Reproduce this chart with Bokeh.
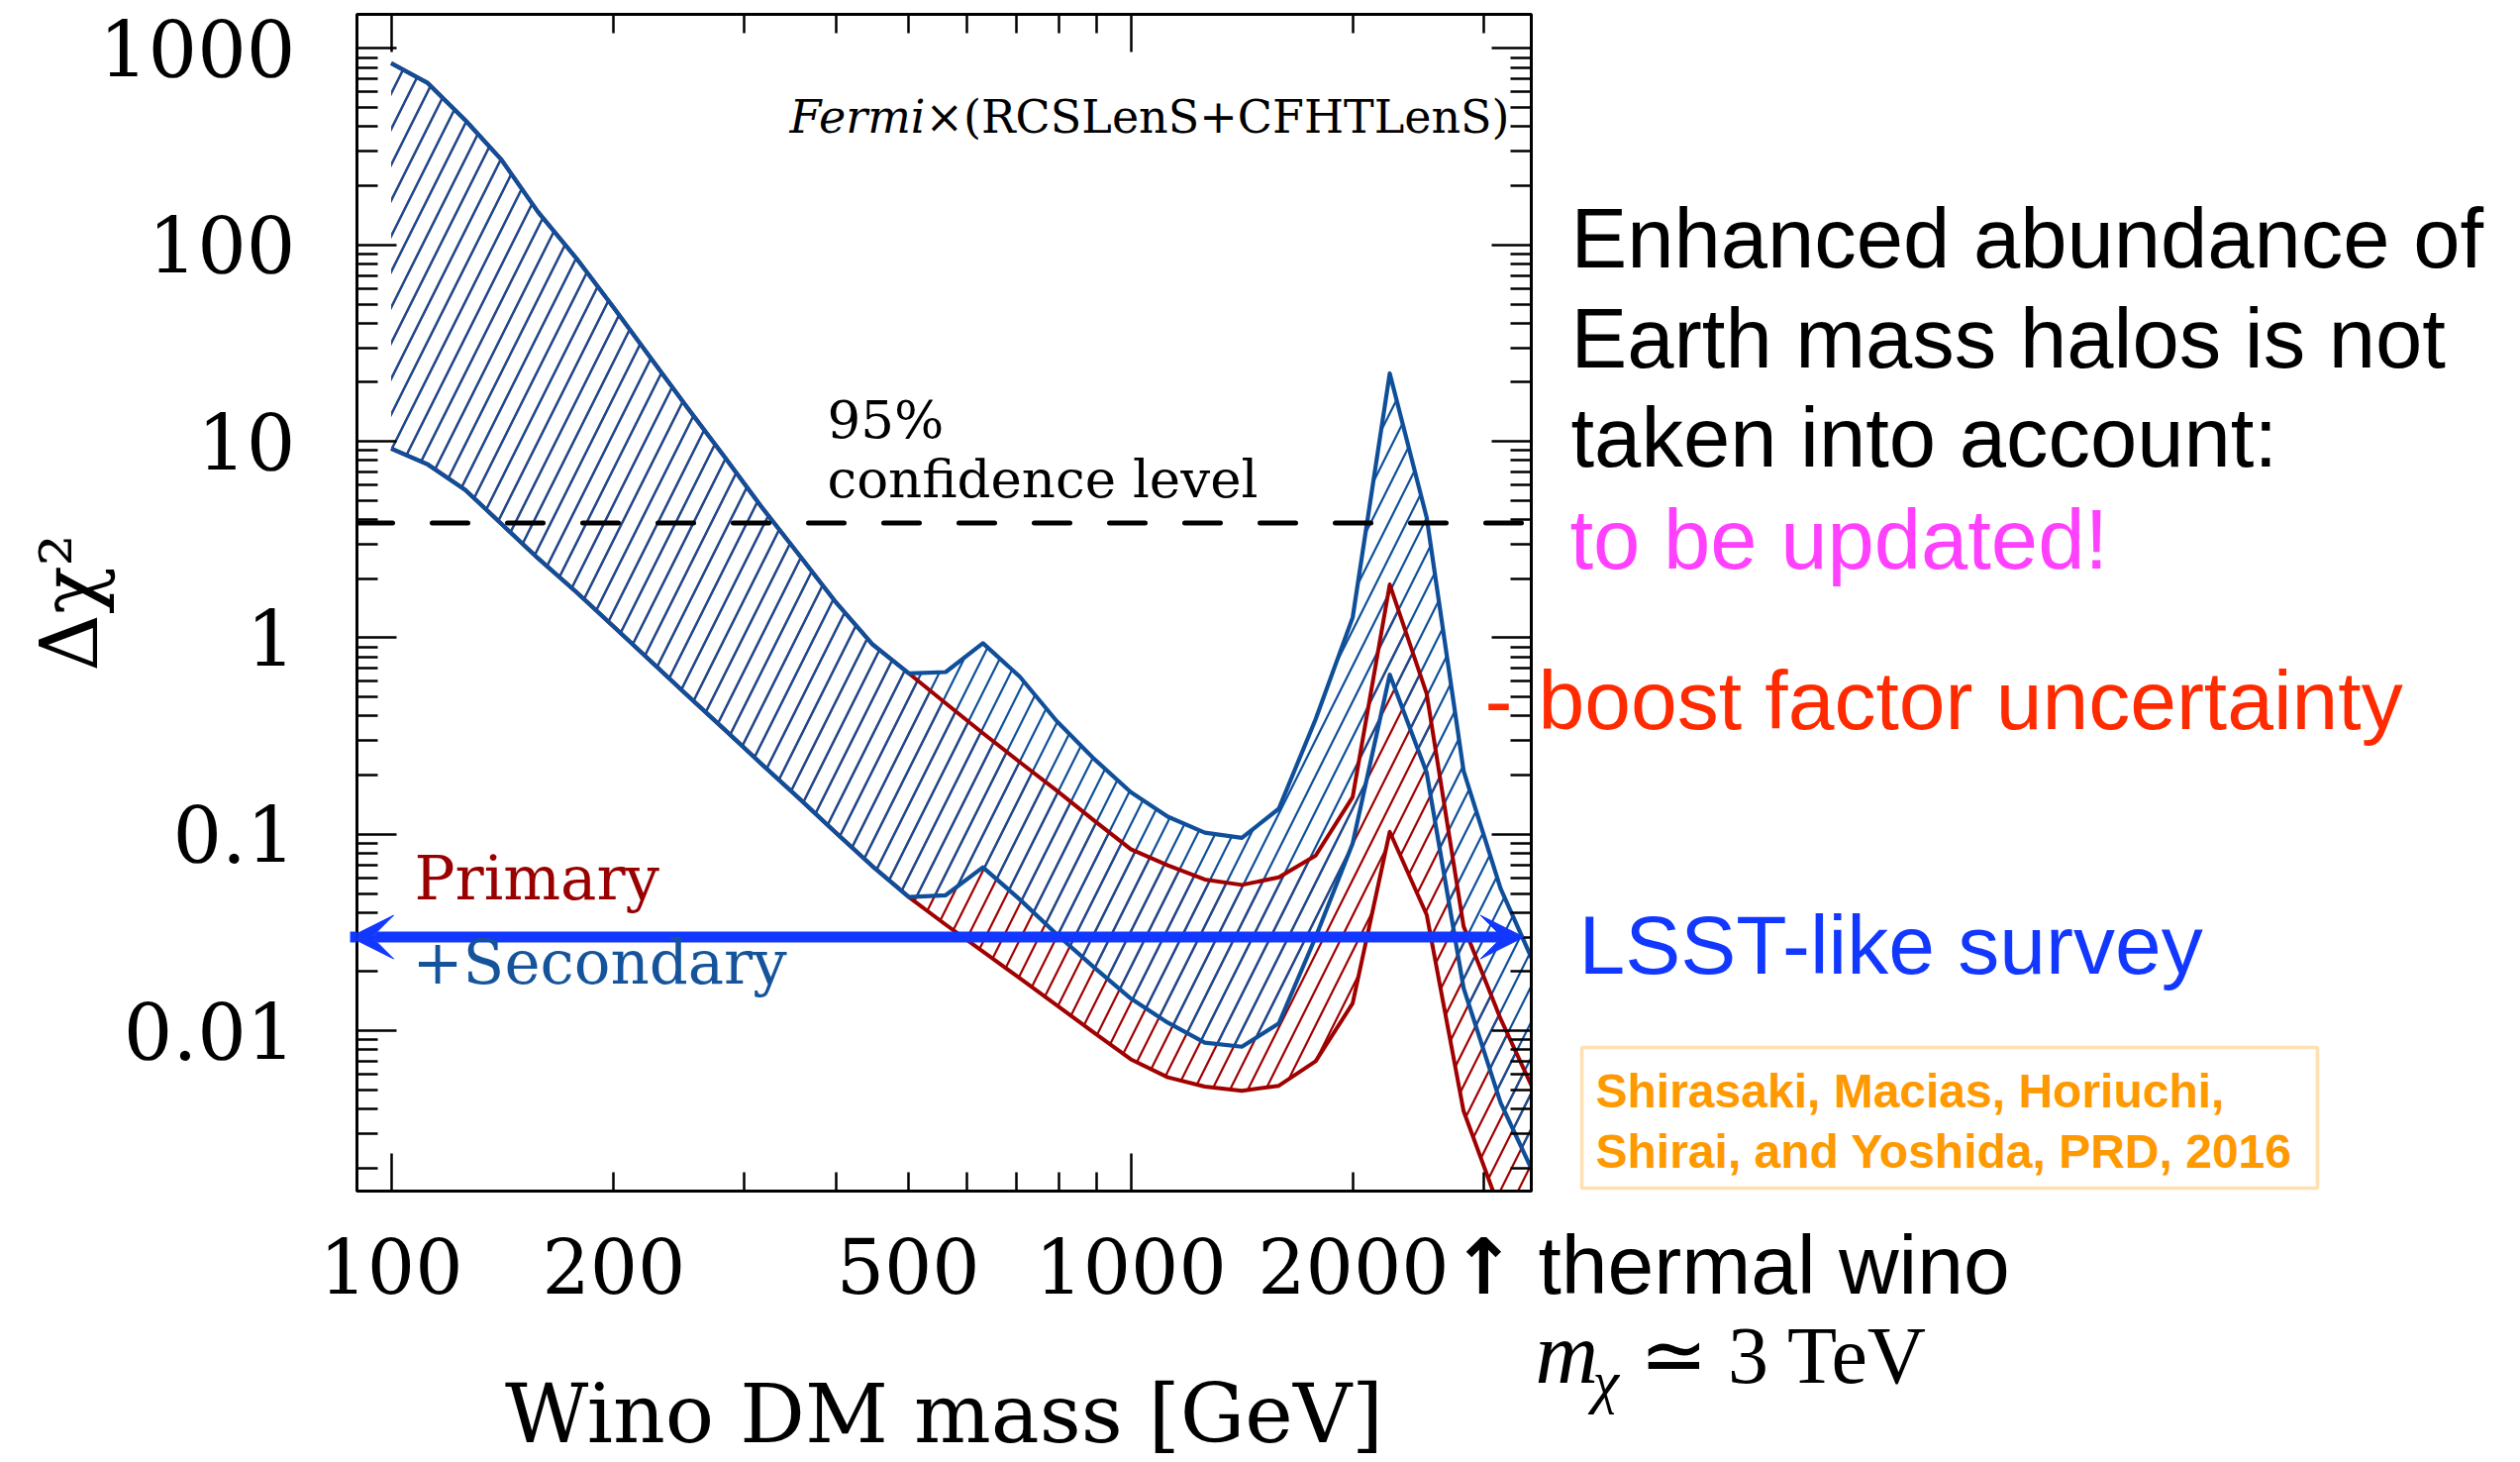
import math

from bokeh.plotting import figure
from bokeh.layouts import row, column
from bokeh.core.properties import value
from bokeh.models import (FixedTicker, LogAxis, Range1d, Span, Label, LabelSet,
                          Arrow, VeeHead, BoxAnnotation, ColumnDataSource)
from bokeh.embed import file_html
from bokeh.resources import INLINE

# Wino dark-matter mass grid [GeV]
mass = [100, 112, 126, 141, 158, 178, 200, 224, 251, 282, 316, 355, 398, 447,
        501, 562, 631, 708, 794, 891, 1000, 1122, 1259, 1413, 1585, 1778, 1995,
        2239, 2512, 2818, 3162, 3548]

# Delta chi^2 band, primary + secondary emission (upper / lower boost factor)
tot_hi = [842, 668, 431, 271, 147, 85.5, 47.9, 26.8, 15.0, 8.4, 4.7, 2.68, 1.54,
          0.93, 0.66, 0.67, 0.94, 0.634, 0.377, 0.243, 0.164, 0.123, 0.102,
          0.096, 0.135, 0.386, 1.27, 22.2, 4.1, 0.21, 0.053, 0.020]
tot_lo = [9.2, 7.65, 5.66, 3.8, 2.54, 1.71, 1.14, 0.765, 0.513, 0.343, 0.23,
          0.154, 0.103, 0.069, 0.048, 0.049, 0.068, 0.0466, 0.031, 0.0211,
          0.0146, 0.011, 0.0087, 0.0083, 0.0109, 0.030, 0.09, 0.65, 0.206,
          0.0165, 0.0043, 0.0017]

# Delta chi^2 band, primary emission only
pri_hi = [842, 668, 431, 271, 147, 85.5, 47.9, 26.8, 15.0, 8.4, 4.7, 2.68, 1.54,
          0.93, 0.66, 0.465, 0.327, 0.233, 0.167, 0.118, 0.084, 0.0695, 0.0589,
          0.0553, 0.0604, 0.078, 0.155, 1.87, 0.52, 0.034, 0.0115, 0.0045]
pri_lo = [9.2, 7.65, 5.66, 3.8, 2.54, 1.71, 1.14, 0.765, 0.513, 0.343, 0.23,
          0.154, 0.103, 0.069, 0.048, 0.0347, 0.0253, 0.0185, 0.0135, 0.0098,
          0.00716, 0.0058, 0.0052, 0.00495, 0.00525, 0.0070, 0.0138, 0.103,
          0.039, 0.0039, 0.0012, 0.0005]

cl95 = 3.84                 # 95% confidence level
lsst_level = 0.03           # LSST-like survey sensitivity
lsst_mass = [88, 3400]      # mass span of the LSST arrow
thermal_mass = 3000         # thermal wino mass

# axis ticks
x_major = [100, 1000]
x_minor = [200, 300, 400, 500, 600, 700, 800, 900, 2000, 3000]
x_labeled = [100, 200, 500, 1000, 2000]
x_tick_labels = ["100", "200", "500", "1000", "2000"]
y_major = [0.01, 0.1, 1, 10, 100, 1000]
y_labels = ["0.01", "0.1", "1", "10", "100", "1000"]
y_minor = [m * d for d in (0.001, 0.01, 0.1, 1, 10, 100) for m in range(2, 10)]

BLUE = "#0f4f9a"
RED = "#a00000"
LSST_BLUE = "#1238ff"
ORANGE = "#ff9900"
SERIF = "DejaVu Serif"
SANS = "Liberation Sans"
TIMES = "Liberation Serif"

W, H = 2545, 1476
MAIN_W = 1550                 # width of the plot figure
TOP_H = 1206                  # height of the framed plot row
FRAME_LEFT, FRAME_RIGHT, FRAME_BOTTOM = 360, MAIN_W - 4, 1202
X0, X1 = 89.9, 3479           # mass range of the frame
Y0, Y1 = 0.001528, 1492       # Delta chi^2 range of the frame
BASELINE_SHIFT = 0.31         # Label baseline correction, in em


def px(size):
    return float(size.replace("px", ""))


# ---------------------------------------------------------------- main plot
p = figure(width=MAIN_W, height=TOP_H, x_axis_type="log", y_axis_type="log",
           x_range=Range1d(X0, X1), y_range=Range1d(Y0, Y1),
           output_backend="svg", toolbar_location=None, title=None,
           min_border_left=FRAME_LEFT, min_border_right=MAIN_W - FRAME_RIGHT,
           min_border_top=14, min_border_bottom=TOP_H - FRAME_BOTTOM)
p.grid.visible = False
p.outline_line_color = "black"
p.outline_line_width = 3
p.background_fill_color = "white"
p.border_fill_color = "white"


def tick_style(ax, major_len, minor_len):
    ax.major_tick_in = major_len
    ax.major_tick_out = 0
    ax.minor_tick_in = minor_len
    ax.minor_tick_out = 0
    ax.major_tick_line_width = 2.5
    ax.minor_tick_line_width = 2.5
    ax.major_tick_line_color = "black"
    ax.minor_tick_line_color = "black"
    ax.axis_line_width = 3
    ax.axis_line_color = "black"


def hide_labels(ax):
    ax.major_label_text_font_size = "0px"
    ax.major_label_text_color = None
    ax.major_label_standoff = 0


xb = p.xaxis[0]
xb.ticker = FixedTicker(ticks=x_major, minor_ticks=x_minor)
tick_style(xb, 38, 19)
hide_labels(xb)

xt = LogAxis(ticker=FixedTicker(ticks=x_major, minor_ticks=x_minor))
tick_style(xt, 38, 19)
hide_labels(xt)
p.add_layout(xt, "above")

yl = p.yaxis[0]
yl.ticker = FixedTicker(ticks=y_major, minor_ticks=y_minor)
tick_style(yl, 40, 21)
yl.major_label_overrides = dict(zip(y_major, y_labels))
yl.major_label_text_font = SERIF
yl.major_label_text_font_size = "78px"
yl.major_label_text_color = "black"
yl.major_label_standoff = 62
yl.axis_label = "Δχ²"
yl.axis_label_text_font = SERIF
yl.axis_label_text_font_size = "80px"
yl.axis_label_text_font_style = "normal"
yl.axis_label_text_color = "black"
yl.axis_label_standoff = -20

yr = LogAxis(ticker=FixedTicker(ticks=y_major, minor_ticks=y_minor))
tick_style(yr, 40, 21)
hide_labels(yr)
p.add_layout(yr, "right")

src = ColumnDataSource(dict(mass=mass, tot_hi=tot_hi, tot_lo=tot_lo,
                            pri_hi=pri_hi, pri_lo=pri_lo))
hatch = dict(hatch_pattern="/", hatch_scale=36, hatch_weight=2.2,
             fill_color=None, fill_alpha=0)
p.varea(x="mass", y1="pri_lo", y2="pri_hi", source=src, hatch_color=RED, **hatch)
p.varea(x="mass", y1="tot_lo", y2="tot_hi", source=src, hatch_color=BLUE, **hatch)
for col in ("pri_hi", "pri_lo"):
    p.line("mass", col, source=src, line_color=RED, line_width=4, line_join="round")
for col in ("tot_hi", "tot_lo"):
    p.line("mass", col, source=src, line_color=BLUE, line_width=4.2, line_join="round")

p.add_layout(Span(location=cl95, dimension="width", line_color="black",
                  line_width=5, line_dash="36 40", line_cap="round"))

p.add_layout(Arrow(start=VeeHead(size=44, fill_color=LSST_BLUE, line_color=LSST_BLUE, line_width=1),
                   end=VeeHead(size=44, fill_color=LSST_BLUE, line_color=LSST_BLUE, line_width=1),
                   x_start=lsst_mass[0], y_start=lsst_level,
                   x_end=lsst_mass[1], y_end=lsst_level,
                   line_color=LSST_BLUE, line_width=11))


def frame_label(text, cx, cy, size, color="black", font=SERIF, style="normal", align="left"):
    # page-pixel position converted to frame-relative screen units
    cy = cy - BASELINE_SHIFT * px(size)
    p.add_layout(Label(text=text, x=cx - FRAME_LEFT, y=FRAME_BOTTOM - cy,
                       x_units="screen", y_units="screen",
                       text_font=font, text_font_size=size, text_color=color,
                       text_font_style=style, text_align=align,
                       text_baseline="alphabetic"))


frame_label("Fermi", 934, 132, "46px", style="italic", align="right")
frame_label("×(RCSLenS+CFHTLenS)", 934, 132, "46px")
frame_label("95%", 835, 439, "53px")
frame_label("confidence level", 835, 499, "53px")
frame_label("Primary", 418, 905, "61px", color="#990000")
frame_label("+Secondary", 416, 990, "61px", color="#15549a")
frame_label("-", 1499, 733, "84px", color="#ff2a00", font=SANS)


def page_label(fig, text, cx, cy, size, color="black", font=SANS, style="normal",
               align="left", x_units="data"):
    fig.add_layout(Label(text=text, x=cx, y=cy - BASELINE_SHIFT * px(size),
                         x_units=x_units, text_font=font, text_font_size=size,
                         text_color=color, text_font_style=style,
                         text_align=align, text_baseline="alphabetic"))


# ------------------------------------------- notes to the right of the frame
side_top = figure(width=W - MAIN_W, height=TOP_H, x_range=Range1d(MAIN_W, W),
                  y_range=Range1d(FRAME_BOTTOM, 14), output_backend="svg",
                  toolbar_location=None, title=None, x_axis_location=None,
                  y_axis_location=None, min_border_left=0, min_border_right=0,
                  min_border_top=14, min_border_bottom=TOP_H - FRAME_BOTTOM)
side_top.grid.visible = False
side_top.outline_line_color = None
side_top.background_fill_color = "white"
side_top.border_fill_color = "white"

page_label(side_top, "Enhanced abundance of", 1586, 266, "85px")
page_label(side_top, "Earth mass halos is not", 1586, 367, "85px")
page_label(side_top, "taken into account:", 1586, 467, "85px")
page_label(side_top, "to be updated!", 1585, 570, "85px", color="#ff40ff")
page_label(side_top, "boost factor uncertainty", 1553, 733, "84px", color="#ff2a00")
page_label(side_top, "LSST-like survey", 1594, 980, "84px", color=LSST_BLUE)
side_top.add_layout(BoxAnnotation(left=1597, right=2340, top=1057, bottom=1199,
                                  fill_color=None, fill_alpha=0,
                                  line_color=ORANGE, line_width=3.5))
page_label(side_top, "Shirasaki, Macias, Horiuchi,", 1611, 1116, "48px", color=ORANGE, style="bold")
page_label(side_top, "Shirai, and Yoshida, PRD, 2016", 1611, 1177, "48px", color=ORANGE, style="bold")

# ------------------------- strip under the plot: x tick labels, title, notes
# same mass scale as the frame, extended over the full page width
decade_px = (FRAME_RIGHT - FRAME_LEFT) / math.log10(X1 / X0)
strip_range = Range1d(X0 / 10 ** (FRAME_LEFT / decade_px),
                      X1 * 10 ** ((W - FRAME_RIGHT) / decade_px))
strip = figure(width=W, height=H - TOP_H, x_axis_type="log", x_range=strip_range,
               y_range=Range1d(H, TOP_H), output_backend="svg",
               toolbar_location=None, title=None, x_axis_location=None,
               y_axis_location=None, min_border=0)
strip.grid.visible = False
strip.outline_line_color = None
strip.background_fill_color = "white"
strip.border_fill_color = "white"

tick_src = ColumnDataSource(dict(x=x_labeled, text=x_tick_labels))
strip.add_layout(LabelSet(x="x", y=1305, text="text", source=tick_src,
                          text_font=value(SERIF), text_font_size="76px",
                          text_color="black", text_align="center",
                          text_baseline="alphabetic"))
# thermal wino marker under the mass axis
page_label(strip, "↑", thermal_mass, 1303, "78px", font="DejaVu Sans",
           style="bold", align="center")
page_label(strip, "Wino DM mass [GeV]", 953, 1452, "82px", font=SERIF,
           align="center", x_units="screen")
page_label(strip, "thermal wino", 1553, 1303, "84px", x_units="screen")
page_label(strip, "m", 1550, 1393, "88px", font=TIMES, style="italic", x_units="screen")
page_label(strip, "χ", 1608, 1413, "60px", font=TIMES, style="italic", x_units="screen")
page_label(strip, "≃ 3 TeV", 1655, 1393, "82px", font=TIMES, x_units="screen")

layout = column(row(p, side_top, spacing=0), strip, spacing=0)
open("out.html", "w").write(file_html(layout, INLINE))
